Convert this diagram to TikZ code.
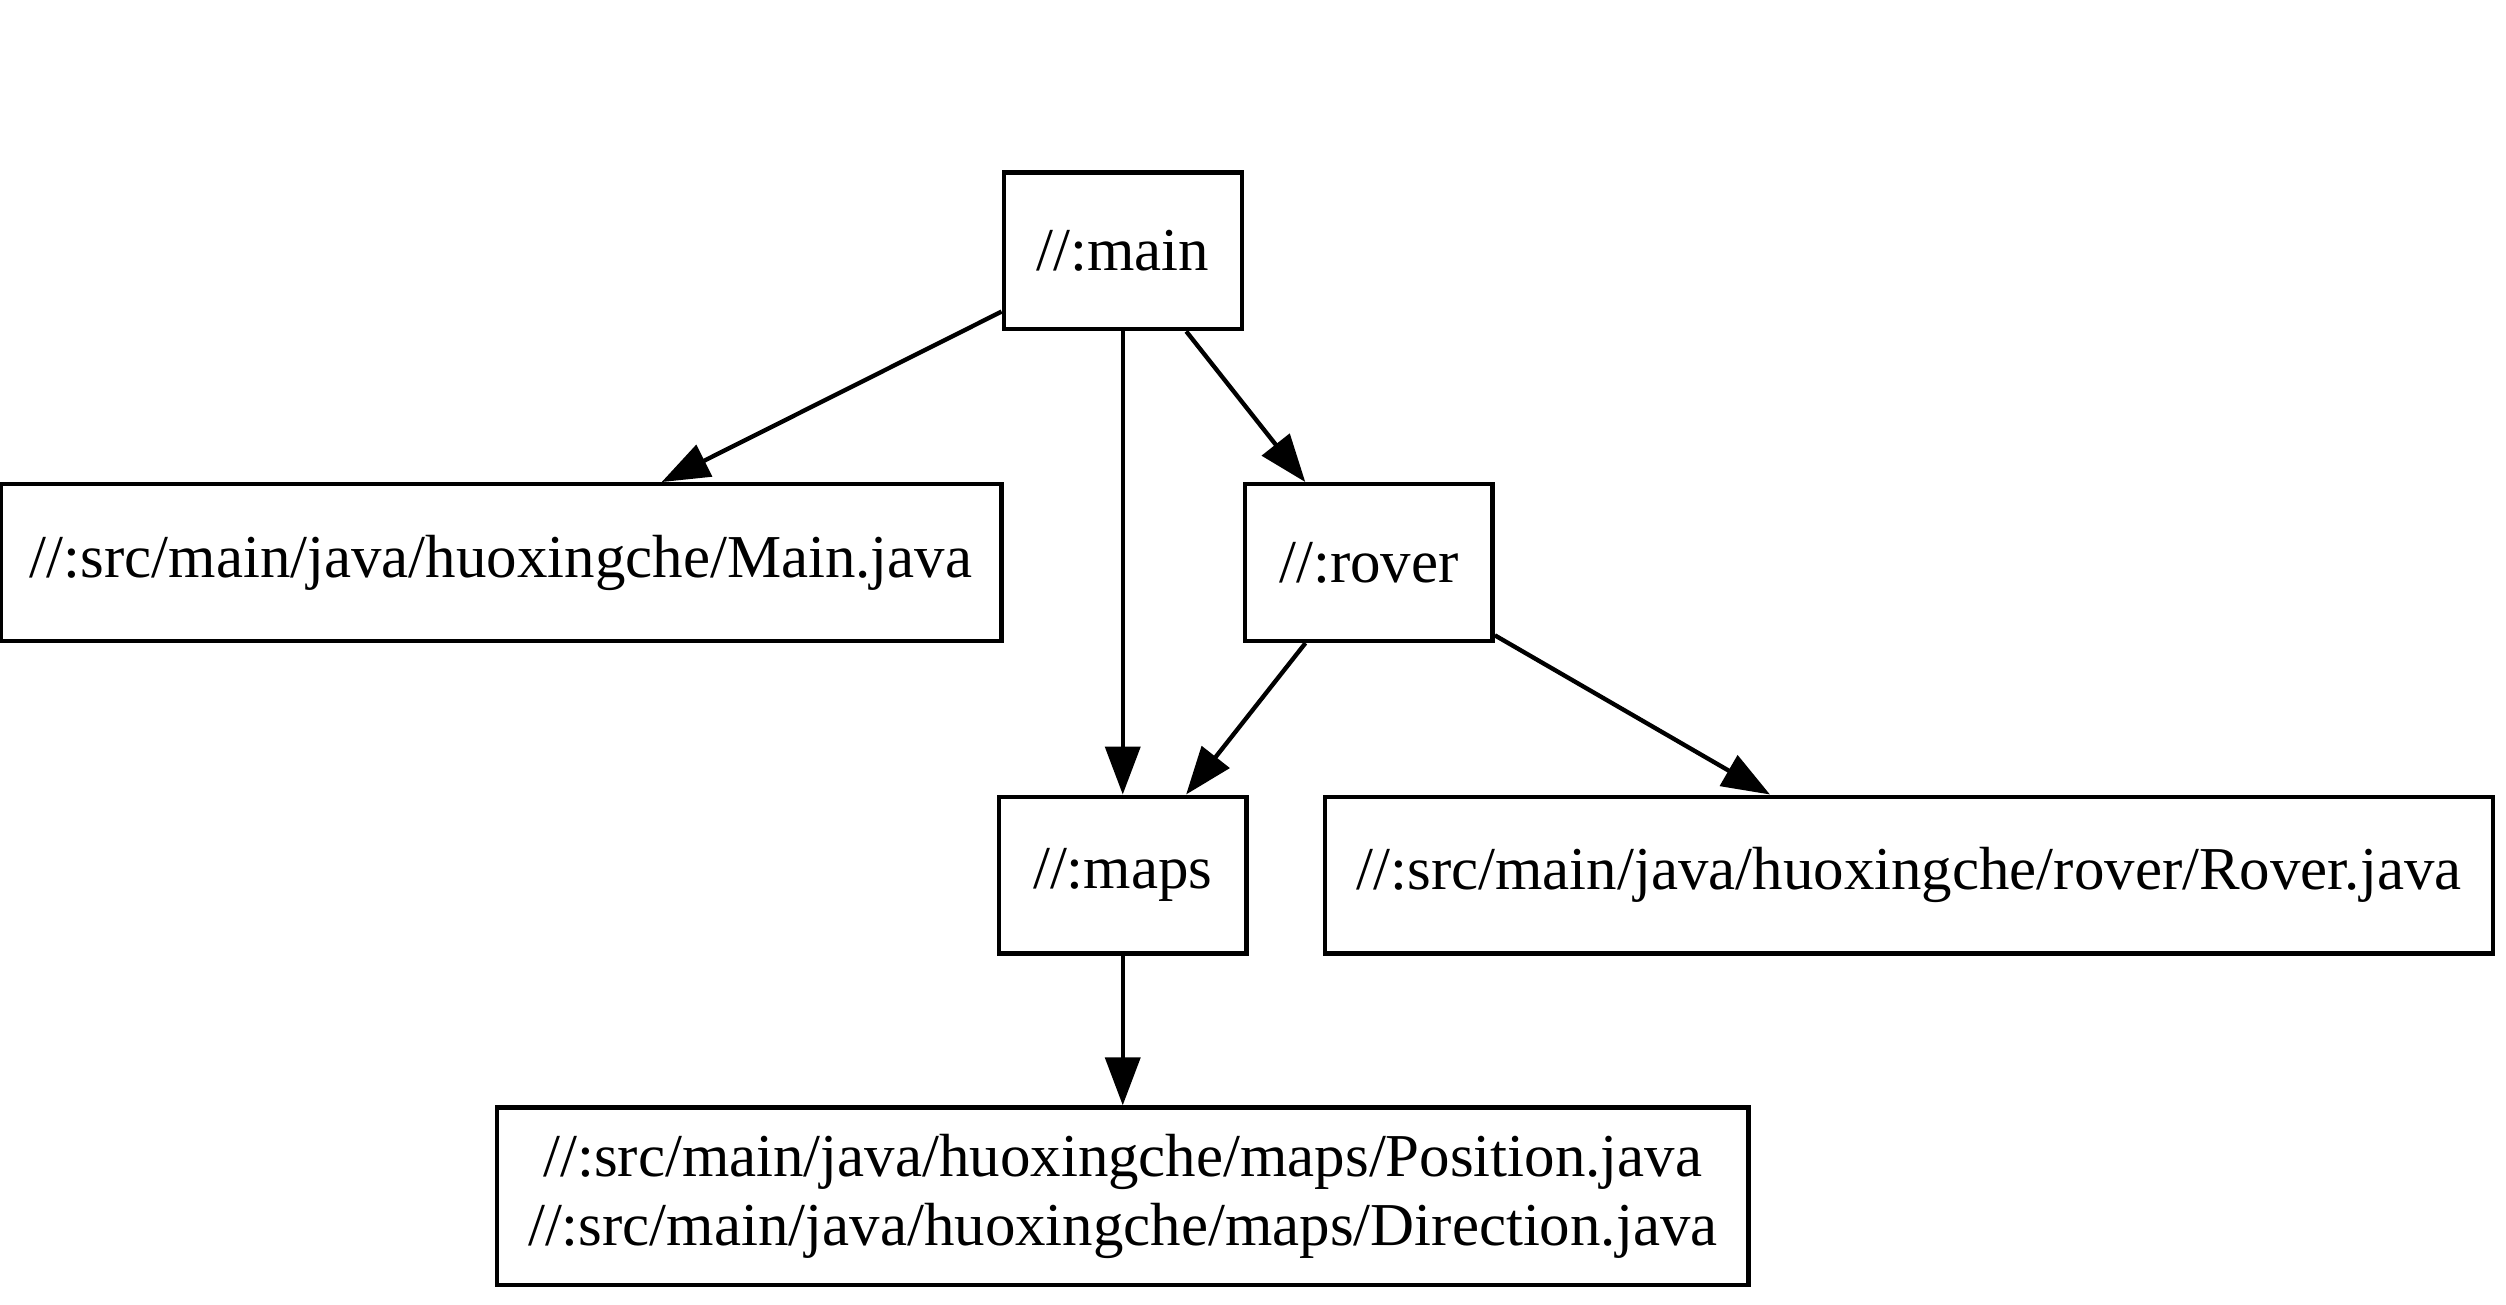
\documentclass[tikz,border=0pt]{standalone}
\usepackage{fontspec}
\setmainfont{Liberation Serif}
\usetikzlibrary{arrows.meta}
\begin{document}
\begin{tikzpicture}[x=0.3673pt,y=-0.3673pt,
  box/.style={draw,line width=1pt,rectangle,inner sep=0pt,minimum height=36pt,
    font=\fontsize{14pt}{16pt}\selectfont,align=center},
  edge/.style={line width=1pt,-{Triangle[length=11pt,width=8pt]}}]
\useasboundingbox (0,0) rectangle (1568,816);
\node[box,minimum width=54.7pt] (main) at (702.5,157) {//:main};
\node[box,minimum width=230pt] (mainjava) at (313.5,352) {//:src/main/java/huoxingche/Main.java};
\node[box,minimum width=56.9pt] (rover) at (856.5,352) {//:rover};
\node[box,minimum width=56.9pt] (maps) at (702.5,547.5) {//:maps};
\node[box,minimum width=268.5pt] (roverjava) at (1194.5,547.5) {//:src/main/java/huoxingche/rover/Rover.java};
\node[box,minimum width=287.6pt,minimum height=40.8pt] (files) at (702.5,748.5) {//:src/main/java/huoxingche/maps/Position.java\\//:src/main/java/huoxingche/maps/Direction.java};
\draw[edge] (main) -- (mainjava);
\draw[edge] (main) -- (maps);
\draw[edge] (main) -- (rover);
\draw[edge] (rover) -- (maps);
\draw[edge] (rover) -- (roverjava);
\draw[edge] (maps) -- (files);
\end{tikzpicture}
\end{document}
